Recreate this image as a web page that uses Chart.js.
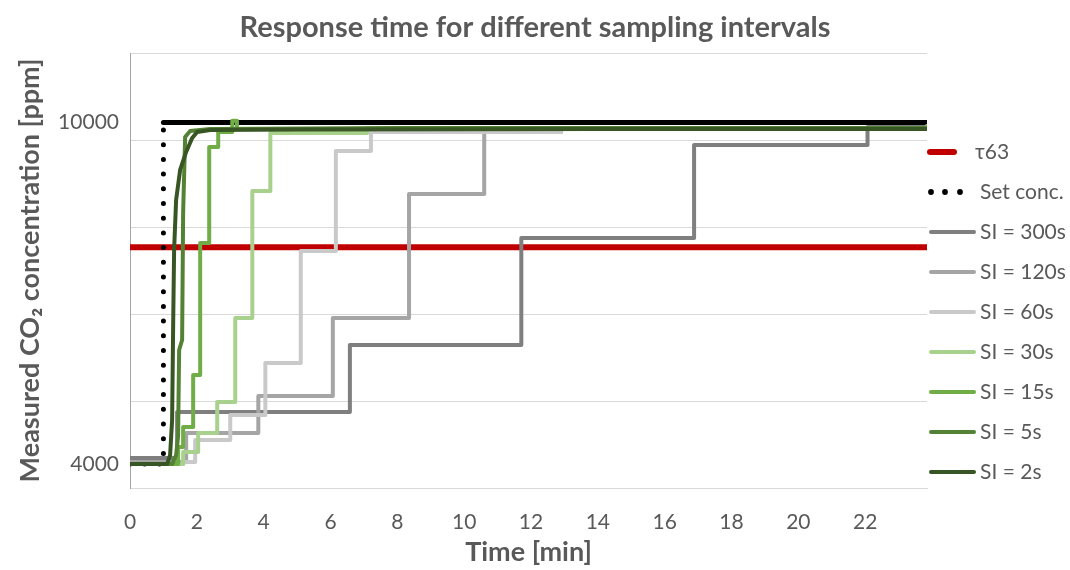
<!DOCTYPE html>
<html>
<head>
<meta charset="utf-8">
<script src="https://cdn.jsdelivr.net/npm/chart.js@4"></script>
<style>
  body { margin: 0; background: #fff; }
</style>
</head>
<body>
<canvas id="responseChart" width="1070" height="570"></canvas>
<script>
// time in minutes, values in ppm
var timeTau = [0, 23.85];
var ppmTau = [7810, 7810];

var timeSet = [0, 1, 1, 23.85];
var ppmSet = [4000, 4000, 10000, 10000];

var time300 = [0, 1.41, 6.58, 11.71, 16.88, 22.07, 23.85];
var ppm300 = [4105, 4914, 6091, 7971, 9605, 9921, 9921];

var time120 = [0, 1.68, 3.84, 6.07, 8.35, 10.6, 12.9, 23.85];
var ppm120 = [4035, 4545, 5195, 6565, 8744, 9833, 9904, 9904];

var time60 = [0, 1.6, 1.95, 3.0, 4.05, 5.11, 6.16, 7.21, 12.9, 23.85];
var ppm60 = [4000, 4035, 4422, 4861, 5775, 7742, 9499, 9833, 9904, 9904];

var time30 = [0, 1.59, 2.04, 2.61, 3.15, 3.66, 4.2, 7.1, 23.85];
var ppm30 = [4000, 4211, 4545, 5089, 6565, 8797, 9816, 9904, 9939];

var time15 = [0, 1.44, 1.59, 1.89, 2.1, 2.37, 2.64, 3.06, 3.2, 23.85];
var ppm15 = [4000, 4299, 4650, 5564, 7883, 9570, 9833, 10030, 9886, 9921];

var time5 = [0, 1.26, 1.38, 1.44, 1.47, 1.56, 1.59, 1.65, 1.8, 2.4, 8, 23.85];
var ppm5 = [4000, 4000, 4158, 4500, 6003, 6179, 8410, 9745, 9851, 9886, 9904, 9904];

var time2 = [0, 1.11, 1.2, 1.26, 1.29, 1.32, 1.38, 1.5, 1.68, 1.86, 2.01, 2.4, 5.1, 14, 23.85];
var ppm2 = [4000, 4000, 4158, 4773, 6354, 7760, 8638, 9166, 9482, 9728, 9833, 9868, 9878, 9886, 9886];

var xTicks = [0, 2, 4, 6, 8, 10, 12, 14, 16, 18, 20, 22];
var yLabels = [4000, 10000];
var yMin = 3580, yMax = 11220;

function pts(t, v) {
    return t.map(function (x, i) { return { x: x, y: v[i] }; });
}

var textColor = '#595959';

// legend drawn at the right of the plot, same look as the original
var sideLegend = {
    id: 'sideLegend',
    afterDraw: function (chart) {
        var ctx = chart.ctx;
        var x0 = chart.chartArea.right;
        var top = chart.chartArea.top;
        ctx.save();
        ctx.font = '21px Lato';
        ctx.fillStyle = textColor;
        ctx.textBaseline = 'middle';
        chart.data.datasets.forEach(function (ds, i) {
            var y = top + 99 + i * 40;
            ctx.strokeStyle = ds.borderColor;
            ctx.lineCap = 'round';
            if (i === 0) {
                ctx.lineWidth = 6;
                ctx.beginPath(); ctx.moveTo(x0 + 3, y); ctx.lineTo(x0 + 27, y); ctx.stroke();
                ctx.fillText(ds.label, x0 + 48, y);
            } else if (i === 1) {
                ctx.fillStyle = ds.borderColor;
                [4, 18, 33].forEach(function (dx) {
                    ctx.beginPath(); ctx.arc(x0 + dx, y, 2.9, 0, Math.PI * 2); ctx.fill();
                });
                ctx.fillStyle = textColor;
                ctx.fillText(ds.label, x0 + 53, y);
            } else {
                ctx.lineWidth = 4;
                ctx.beginPath(); ctx.moveTo(x0 + 4, y); ctx.lineTo(x0 + 47, y); ctx.stroke();
                ctx.fillText(ds.label, x0 + 53, y);
            }
        });
        ctx.restore();
    }
};

var ctx = document.getElementById('responseChart').getContext('2d');
var myChart = new Chart(ctx, {
    type: 'line',
    data: {
        datasets: [
            { label: 'τ63', data: pts(timeTau, ppmTau), borderColor: '#c00000', borderWidth: 6, borderCapStyle: 'butt', order: 9 },
            {
                label: 'Set conc.', data: pts(timeSet, ppmSet), borderColor: '#000000', borderWidth: 5,
                borderDash: [0, 14.7], order: 8,
                segment: {
                    borderDash: function (c) { return c.p0.parsed.y >= 10000 && c.p1.parsed.y >= 10000 ? [] : undefined; }
                }
            },
            { label: 'SI = 300s', data: pts(time300, ppm300), borderColor: '#7f7f7f', stepped: true, order: 7 },
            { label: 'SI = 120s', data: pts(time120, ppm120), borderColor: '#a5a5a5', stepped: true, order: 6 },
            { label: 'SI = 60s', data: pts(time60, ppm60), borderColor: '#c9c9c9', stepped: true, order: 5 },
            { label: 'SI = 30s', data: pts(time30, ppm30), borderColor: '#a9d18e', stepped: true, order: 4 },
            { label: 'SI = 15s', data: pts(time15, ppm15), borderColor: '#70ad47', stepped: true, order: 3 },
            { label: 'SI = 5s', data: pts(time5, ppm5), borderColor: '#548235', order: 2 },
            { label: 'SI = 2s', data: pts(time2, ppm2), borderColor: '#375623', order: 1 }
        ]
    },
    options: {
        responsive: false,
        animation: false,
        layout: { padding: 0 },
        elements: {
            point: { radius: 0 },
            line: { borderWidth: 4, borderCapStyle: 'round', borderJoinStyle: 'round', tension: 0 }
        },
        plugins: {
            legend: { display: false },
            tooltip: { enabled: false },
            title: {
                display: true,
                text: 'Response time for different sampling intervals',
                color: textColor,
                font: { family: 'Lato', size: 29, weight: 'bold' },
                padding: { top: 10, bottom: 8.2 }
            }
        },
        scales: {
            x: {
                type: 'linear',
                min: 0,
                max: 23.85,
                grid: { display: false },
                border: { display: true, color: '#d9d9d9', width: 1 },
                ticks: {
                    autoSkip: false, maxRotation: 0, padding: 14, color: textColor,
                    font: { family: 'Lato', size: 21 }
                },
                title: {
                    display: true, text: 'Time [min]', color: textColor,
                    font: { family: 'Lato', size: 27, weight: 'bold' },
                    padding: { top: 0, bottom: 2 }
                },
                afterBuildTicks: function (s) {
                    s.ticks = xTicks.map(function (v) { return { value: v }; });
                },
                afterFit: function (s) { s.height = 82; }
            },
            y: {
                type: 'linear',
                min: yMin,
                max: yMax,
                grid: {
                    drawTicks: false,
                    color: function (c) { return yLabels.indexOf(c.tick.value) >= 0 ? 'rgba(0,0,0,0)' : '#d9d9d9'; }
                },
                border: { display: true, color: '#a6a6a6', width: 1 },
                ticks: {
                    padding: 11, color: textColor, autoSkip: false,
                    font: { family: 'Lato', size: 21 },
                    callback: function (v) { return yLabels.indexOf(v) >= 0 ? String(v) : ''; }
                },
                title: {
                    display: true, text: 'Measured CO₂ concentration [ppm]', color: textColor,
                    font: { family: 'Lato', size: 27, weight: 'bold' },
                    padding: { top: 14, bottom: 0 }
                },
                afterBuildTicks: function (s) {
                    var step = (yMax - yMin) / 5;
                    var vals = [];
                    for (var k = 0; k <= 5; k++) vals.push(yMin + k * step);
                    s.ticks = vals.concat(yLabels).sort(function (a, b) { return a - b; })
                        .map(function (v) { return { value: v }; });
                },
                afterFit: function (s) { s.width = 130; }
            },
            // empty right axis that keeps room for the legend
            yRight: {
                type: 'linear',
                position: 'right',
                min: yMin,
                max: yMax,
                grid: { display: false, drawOnChartArea: false },
                border: { display: false },
                ticks: { display: false },
                afterFit: function (s) { s.width = 143; }
            }
        }
    },
    plugins: [sideLegend]
});
</script>
</body>
</html>
